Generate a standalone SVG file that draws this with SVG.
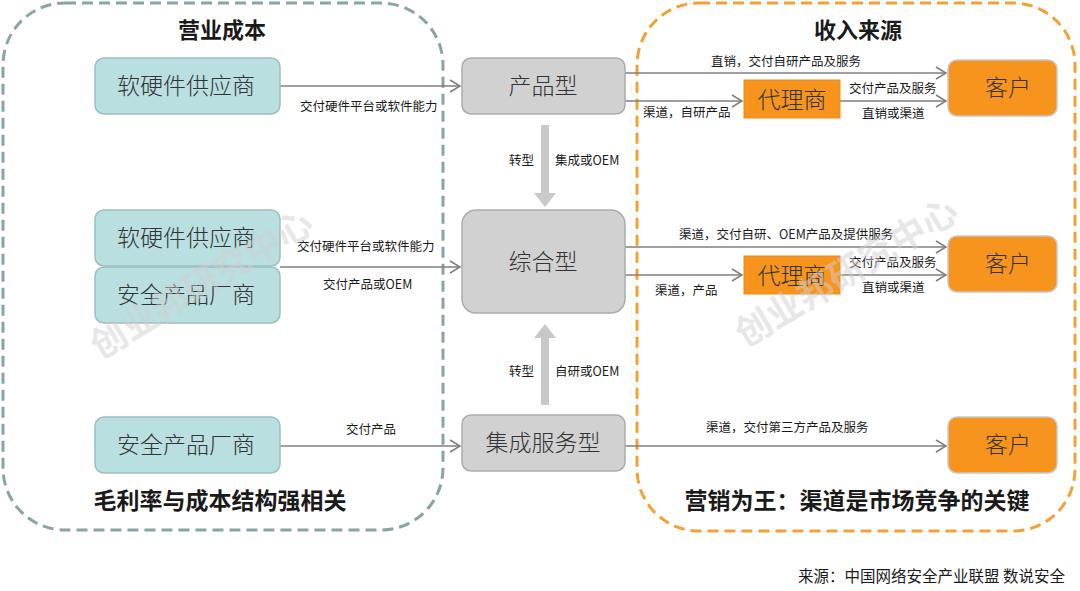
<svg xmlns="http://www.w3.org/2000/svg" width="1080" height="591" viewBox="0 0 1080 591">
<defs>
<marker id="ah" markerWidth="14" markerHeight="14" refX="11" refY="7" orient="auto" markerUnits="userSpaceOnUse">
<path d="M1,1 L11,7 L1,13" fill="none" stroke="#7f7f7f" stroke-width="1.5"/>
</marker>
</defs>
<style>
.zone-l{fill:none;stroke:#8aa3a4;stroke-width:3;stroke-dasharray:11 6}
.zone-r{fill:none;stroke:#f5a035;stroke-width:3;stroke-dasharray:11 6}
.teal{fill:#b9dfe1;stroke:#9dbfc0;stroke-width:1.5}
.grey{fill:#d1d1d1;stroke:#acacac;stroke-width:1.5}
.org{fill:#f7941d;stroke:#e88a1a;stroke-width:1}
.orgc{fill:#f7941d;stroke:#c8c8c8;stroke-width:1.5}
.nt{font-family:"Noto Sans CJK SC",sans-serif;font-size:23px;fill:#333;text-anchor:middle;font-weight:300}
.ttl{font-family:"Noto Sans CJK SC",sans-serif;font-size:22px;font-weight:bold;fill:#1a1a1a;text-anchor:middle}
.bt{font-family:"Noto Sans CJK SC",sans-serif;font-size:23px;font-weight:bold;fill:#1a1a1a;text-anchor:middle}
.lb{font-family:"Noto Sans CJK SC",sans-serif;font-size:12.5px;fill:#1a1a1a}
.ln{stroke:#7f7f7f;stroke-width:1.5;fill:none;marker-end:url(#ah)}
.big{fill:#c9c9c9}
.wm{font-family:"Noto Sans CJK SC",sans-serif;font-size:36px;font-weight:bold;fill:#cfcfcf;fill-opacity:0.5}
</style>
<rect width="1080" height="591" fill="#ffffff"/>
<g id="zones">
<rect class="zone-l" x="3" y="3" width="440" height="527" rx="62"/>
<rect class="zone-r" x="637" y="3" width="438" height="528" rx="62"/>
<text class="ttl" x="222" y="38">营业成本</text>
<text class="ttl" x="858" y="38">收入来源</text>
<text class="bt" x="220" y="509">毛利率与成本结构强相关</text>
<text class="bt" x="857" y="509">营销为王：渠道是市场竞争的关键</text>
</g>
<g id="connectors">
<line class="ln" x1="280" y1="86" x2="460" y2="86"/>
<line class="ln" x1="280" y1="267" x2="460" y2="267"/>
<line class="ln" x1="280" y1="446" x2="460" y2="446"/>
<line class="ln" x1="625" y1="73" x2="946" y2="73"/>
<line class="ln" x1="625" y1="101" x2="742" y2="101"/>
<line class="ln" x1="840" y1="101" x2="946" y2="101"/>
<line class="ln" x1="625" y1="247" x2="946" y2="247"/>
<line class="ln" x1="625" y1="275" x2="742" y2="275"/>
<line class="ln" x1="840" y1="275" x2="946" y2="275"/>
<line class="ln" x1="625" y1="446" x2="946" y2="446"/>
<path class="big" d="M541,125 H549 V193 H556 L545,207 L534,193 H541 Z"/>
<path class="big" d="M541,405 H549 V338 H556 L545,324 L534,338 H541 Z"/>
<text class="lb" x="300" y="111">交付硬件平台或软件能力</text>
<text class="lb" x="297" y="251">交付硬件平台或软件能力</text>
<text class="lb" x="323" y="289">交付产品或OEM</text>
<text class="lb" x="346" y="434">交付产品</text>
<text class="lb" x="509" y="165">转型</text>
<text class="lb" x="555" y="165">集成或OEM</text>
<text class="lb" x="509" y="376">转型</text>
<text class="lb" x="555" y="376">自研或OEM</text>
<text class="lb" x="711" y="66">直销，交付自研产品及服务</text>
<text class="lb" x="643" y="117">渠道，自研产品</text>
<text class="lb" x="849" y="93">交付产品及服务</text>
<text class="lb" x="862" y="118">直销或渠道</text>
<text class="lb" x="679" y="239">渠道，交付自研、OEM产品及提供服务</text>
<text class="lb" x="655" y="295">渠道，产品</text>
<text class="lb" x="849" y="267">交付产品及服务</text>
<text class="lb" x="862" y="292">直销或渠道</text>
<text class="lb" x="706" y="432">渠道，交付第三方产品及服务</text>
</g>
<g id="n-sup1"><rect class="teal" x="95" y="58" width="185" height="56" rx="9"/><text class="nt" x="186" y="94">软硬件供应商</text></g>
<g id="n-sup2"><rect class="teal" x="95" y="210" width="185" height="56" rx="9"/><text class="nt" x="186" y="246">软硬件供应商</text></g>
<g id="n-sec2"><rect class="teal" x="95" y="267" width="185" height="56" rx="9"/><text class="nt" x="186" y="303">安全产品厂商</text></g>
<g id="n-sec3"><rect class="teal" x="95" y="417" width="185" height="56" rx="9"/><text class="nt" x="186" y="453">安全产品厂商</text></g>
<g id="n-product"><rect class="grey" x="462" y="58" width="163" height="56" rx="9"/><text class="nt" x="543" y="94">产品型</text></g>
<g id="n-combo"><rect class="grey" x="462" y="210" width="163" height="103" rx="14"/><text class="nt" x="543" y="270">综合型</text></g>
<g id="n-integ"><rect class="grey" x="462" y="415" width="163" height="56" rx="9"/><text class="nt" x="543" y="451">集成服务型</text></g>
<g id="n-agent1"><rect class="org" x="744" y="80" width="96" height="38"/><text class="nt" x="792" y="108">代理商</text></g>
<g id="n-agent2"><rect class="org" x="744" y="256" width="96" height="38"/><text class="nt" x="792" y="284">代理商</text></g>
<g id="n-cust1"><rect class="orgc" x="948" y="60" width="109" height="56" rx="9"/><text class="nt" x="1008" y="96">客户</text></g>
<g id="n-cust2"><rect class="orgc" x="948" y="236" width="109" height="56" rx="9"/><text class="nt" x="1008" y="272">客户</text></g>
<g id="n-cust3"><rect class="orgc" x="948" y="417" width="109" height="56" rx="9"/><text class="nt" x="1008" y="453">客户</text></g>
<g id="watermark">
<text class="wm" transform="translate(100,360) rotate(-31)">创业邦研究中心</text>
<text class="wm" transform="translate(745,348) rotate(-31)">创业邦研究中心</text>
</g>
<text x="1065" y="582" style="font-family:'Noto Sans CJK SC',sans-serif;font-size:15.5px;fill:#1a1a1a;text-anchor:end">来源：中国网络安全产业联盟 数说安全</text>
</svg>
